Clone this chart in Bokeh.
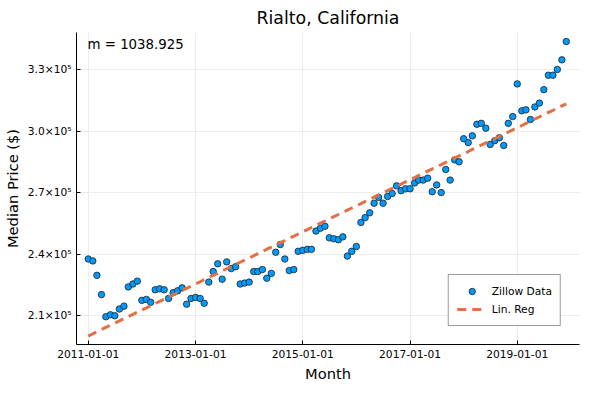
import numpy as np
import pandas as pd
from bokeh.plotting import figure
from bokeh.models import FixedTicker, Legend, LegendItem, Label, Range1d
from bokeh.embed import file_html
from bokeh.resources import INLINE

# median price per month, Jan 2011 - Dec 2019
prices = [
    237656, 236719, 229688, 220313, 209531, 210469, 210000, 213281, 214688, 224063, 225469, 226875,
    217500, 217969, 216563, 222656, 223125, 222656, 218438, 221250, 222188, 223594, 215625, 218438,
    218906, 218438, 216094, 226406, 231563, 235313, 227813, 236250, 232969, 233906, 225469, 225938,
    226406, 231563, 231563, 232500, 228281, 230625, 240938, 244688, 237656, 232031, 232500, 241406,
    241875, 242344, 242344, 251250, 252656, 253594, 247969, 247500, 247031, 248438, 239063, 241406,
    243750, 255469, 257813, 260156, 264844, 267656, 264844, 268125, 269531, 273281, 270938, 271875,
    271875, 274688, 276094, 276094, 277031, 270469, 273750, 270000, 281250, 276094, 285938, 285000,
    296250, 294375, 297656, 303281, 303750, 301406, 293438, 295313, 296719, 292969, 303750, 307031,
    322969, 309844, 310313, 305625, 311719, 313594, 320156, 327188, 327188, 330000, 334688, 343594,
]
slope_text = "m = 1038.925"
months = pd.date_range("2011-01-01", periods=len(prices), freq="MS")
slope, intercept = np.polyfit(np.arange(len(prices)), prices, 1)
fit = intercept + slope * np.arange(len(prices))

tick_dates = ["2011-01-01", "2013-01-01", "2015-01-01", "2017-01-01", "2019-01-01"]
y_ticks = [210000, 240000, 270000, 300000, 330000]
y_labels = ["2.1×10⁵", "2.4×10⁵", "2.7×10⁵", "3.0×10⁵", "3.3×10⁵"]

x0 = pd.Timestamp("2011-01-01") - pd.Timedelta(days=80)
x1 = pd.Timestamp("2019-12-01") + pd.Timedelta(days=90)

p = figure(width=584, height=384, x_axis_type="datetime", output_backend="svg",
           toolbar_location=None, title="Rialto, California",
           x_axis_label="Month", y_axis_label="Median Price ($)",
           x_range=Range1d(x0, x1), y_range=Range1d(196000, 348000),
           min_border_left=72, min_border_right=5, min_border_top=10, min_border_bottom=20)
p.title.align = "center"
p.title.text_font = "DejaVu Sans"
p.title.text_font_size = "13pt"
p.title.text_font_style = "normal"
p.title.text_color = "black"
p.outline_line_color = None

tick_ms = [pd.Timestamp(d).value // 10**6 for d in tick_dates]
p.xaxis.ticker = FixedTicker(ticks=tick_ms)
p.xaxis.major_label_overrides = dict(zip(tick_ms, tick_dates))
p.yaxis.ticker = FixedTicker(ticks=y_ticks)
p.yaxis.major_label_overrides = dict(zip(y_ticks, y_labels))
for ax in (p.xaxis, p.yaxis):
    ax.axis_label_text_font = "DejaVu Sans"
    ax.axis_label_text_font_size = "11pt"
    ax.axis_label_text_font_style = "normal"
    ax.axis_label_text_color = "black"
    ax.axis_label_standoff = 4
    ax.major_label_text_font = "DejaVu Sans"
    ax.major_label_text_font_size = "8pt"
    ax.major_label_text_color = "black"
    ax.minor_tick_line_color = None
    ax.major_tick_in = 4
    ax.major_tick_out = 0
    ax.axis_line_color = "black"
    ax.major_tick_line_color = "black"
p.grid.grid_line_color = "#ececec"

pts = p.scatter(months, prices, size=6.5, fill_color="#009AFA", line_color="#222222", line_width=0.8)
ln = p.line(months, fit, line_color="#E26F46", line_width=3, line_dash="9 6")

legend = Legend(items=[LegendItem(label="Zillow Data", renderers=[pts]),
                       LegendItem(label="Lin. Reg", renderers=[ln])],
                location="bottom_right", label_text_font="DejaVu Sans", label_text_font_size="8pt",
                label_text_color="black", border_line_color="#333333", padding=8, spacing=2,
                glyph_height=16, glyph_width=30, label_height=16, margin=18)
p.add_layout(legend)

p.add_layout(Label(x=x0 + pd.Timedelta(days=75), y=342000, text=slope_text,
                   text_font="DejaVu Sans", text_font_size="10pt", text_baseline="middle",
                   text_color="black"))

open("out.html", "w").write(file_html(p, INLINE))
